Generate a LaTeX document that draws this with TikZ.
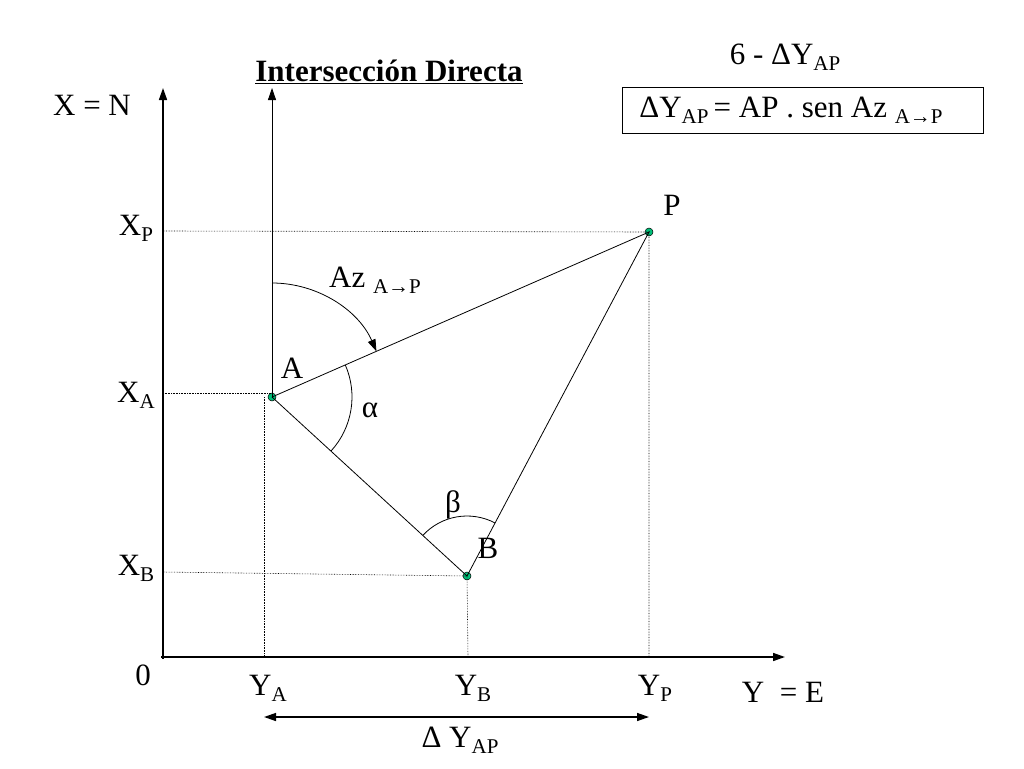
\documentclass[tikz,border=0pt]{standalone}
\usepackage{fontspec}
\setmainfont{Liberation Serif}
\usetikzlibrary{arrows.meta}
\newcommand{\subx}[1]{\raisebox{-0.2em}{\fontsize{21}{21}\selectfont #1}}
\begin{document}
\begin{tikzpicture}[x=1pt,y=-1pt,
  lbl/.style={font=\fontsize{31}{33}\selectfont, inner sep=0pt},
  axis/.style={line width=1.6pt,-{Triangle[length=12pt,width=8pt]}},
  thin/.style={line width=0.8pt},
  dot/.style={densely dotted, line width=0.6pt},
  pt/.style={circle, draw=black, fill={rgb,255:red,0;green,190;blue,120}, minimum size=8pt, inner sep=0pt, line width=0.5pt}]
\useasboundingbox (0,0) rectangle (1024,768);
\coordinate (O) at (163,657);
\coordinate (Ntop) at (163,88);
\coordinate (Eend) at (785,657);
\draw[axis] (163,659) -- (Ntop);
\draw[axis] (161,657) -- (Eend);
\node[pt] (A) at (272,397) {};
\node[pt] (P) at (649,232) {};
\node[pt] (B) at (467,576) {};
\coordinate (Atop) at (272,88);
\draw[thin,-{Triangle[length=12pt,width=8pt]}] (A.center) -- (Atop);
\draw[thin] (A.center) -- (P.center) -- (B.center) -- (A.center);
\draw[dot] (163,231) -- (P.center) -- (649,657);
\draw[dot] (163,393) -- (272,393);
\draw[dot] (163,572) -- (B.center) -- (468,657);
\draw[dot] (264,397) -- (264,657);
\draw[thin,-{Triangle[length=12pt,width=8pt]}] (272,283) arc[start angle=-90,end angle=-23.6,radius=114];
\draw[thin] (A.center) ++(-23.6:80) arc[start angle=-23.6,end angle=42.5,radius=80];
\draw[thin] (B.center) ++(-137.5:60) arc[start angle=-137.5,end angle=-62.1,radius=60];
\node[lbl] at (92,105) {X = N};
\node[lbl] at (136,228) {X\subx{P}};
\node[lbl] at (136,395) {X\subx{A}};
\node[lbl] at (136,568) {X\subx{B}};
\node[lbl] at (143,675) {0};
\node[lbl] at (268,688) {Y\subx{A}};
\node[lbl] at (473,688) {Y\subx{B}};
\node[lbl] at (655,688) {Y\subx{P}};
\node[lbl] at (783,692) {Y\ \ = E};
\node[lbl] at (672,205) {P};
\node[lbl] at (292,368) {A};
\node[lbl] at (488,548) {B};
\node[lbl] at (370,410) {α};
\node[lbl] at (453,505) {β};
\node[lbl] at (375,280) {Az \subx{A→P}};
\coordinate (d1) at (264,717); \coordinate (d2) at (649,717);
\draw[line width=1.4pt,{Triangle[length=12pt,width=8pt]}-{Triangle[length=12pt,width=8pt]}] (d1) -- (d2);
\node[lbl] at (460,740) {Δ Y\subx{AP}};
\node[lbl,font=\fontsize{31}{33}\selectfont\bfseries] at (389,72) {\underline{Intersección Directa}};
\node[lbl] at (785,57) {6 - ΔY\subx{AP}};
\draw[line width=0.6pt] (622,87) rectangle (983,133);
\node[lbl] at (791,110) {ΔY\subx{AP}\,= AP . sen Az \subx{A→P}};
\end{tikzpicture}
\end{document}
